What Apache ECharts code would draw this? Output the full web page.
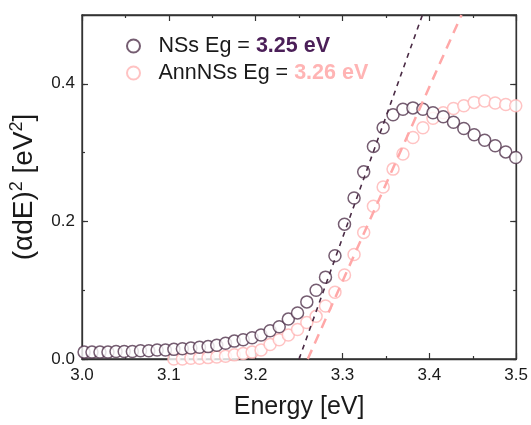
<!DOCTYPE html>
<html>
<head>
<meta charset="utf-8">
<script src="https://cdn.jsdelivr.net/npm/echarts@6/dist/echarts.min.js"></script>
<style>
  html, body { margin: 0; padding: 0; background: #fff; }
  #chart { width: 531px; height: 425px; }
</style>
</head>
<body>
<div id="chart"></div>
<script>
// photon energy of each measured point (eV)
const energies = [
  3.0024, 3.0115, 3.0207, 3.0299, 3.0392, 3.0486, 3.0580, 3.0674, 3.0769, 3.0865,
  3.0961, 3.1058, 3.1156, 3.1254, 3.1353, 3.1452, 3.1552, 3.1653, 3.1754, 3.1856,
  3.1959, 3.2062, 3.2166, 3.2271, 3.2376, 3.2482, 3.2589, 3.2696, 3.2804, 3.2913,
  3.3023, 3.3133, 3.3244, 3.3356, 3.3468, 3.3582, 3.3696, 3.3811, 3.3926, 3.4042,
  3.4160, 3.4278, 3.4397, 3.4516, 3.4637, 3.4758, 3.4880, 3.4995
];
// (alpha d E)^2, NSs
const nssValues = [
  0.010, 0.010, 0.010, 0.010, 0.011, 0.011, 0.011, 0.012, 0.012, 0.013,
  0.013, 0.014, 0.015, 0.016, 0.017, 0.018, 0.020, 0.023, 0.026, 0.028,
  0.031, 0.035, 0.041, 0.047, 0.058, 0.067, 0.083, 0.100, 0.119, 0.150,
  0.196, 0.234, 0.272, 0.309, 0.336, 0.355, 0.363, 0.365, 0.363, 0.358,
  0.352, 0.344, 0.335, 0.326, 0.318, 0.310, 0.301, 0.293
];
// (alpha d E)^2, AnnNSs
const annValues = [
  -0.004, -0.004, -0.004, -0.004, -0.004, -0.004, -0.004, -0.004, -0.004, -0.004,
  -0.004, 0.000, 0.000, 0.001, 0.001, 0.002, 0.003, 0.004, 0.006, 0.008,
  0.010, 0.013, 0.021, 0.028, 0.035, 0.043, 0.053, 0.062, 0.077, 0.097,
  0.122, 0.152, 0.184, 0.222, 0.250, 0.276, 0.298, 0.322, 0.336, 0.350,
  0.358, 0.364, 0.368, 0.373, 0.375, 0.372, 0.370, 0.368
];
// tangent lines (Tauc extrapolation)
const nssFitX = [3.25, 3.392];
const nssFitY = [0, 0.5];
const annFitX = [3.26, 3.437];
const annFitY = [0, 0.5];
const gapNSs = '3.25 eV';
const gapAnn = '3.26 eV';

const darkColor = '#52344e';
const pinkColor = '#ffb4b4';

const zip = (xs, ys) => xs.map((x, i) => [x, ys[i]]);

const chart = echarts.init(document.getElementById('chart'));

const font = 'Liberation Sans, Arial, sans-serif';
const tickStyle = { color: '#333', width: 1.2 };
const frame = () => ({ show: true, onZero: false, lineStyle: { color: '#333', width: 1.3 } });
const noLine = () => ({ show: false, onZero: false });
const majorTick = () => ({ show: true, inside: true, length: 6, lineStyle: tickStyle });
const minorTickY = () => ({ show: true, inside: true, length: 3, lineStyle: tickStyle });
const minorTickX = () => ({ show: true, splitNumber: 2, length: 3, lineStyle: tickStyle });

// every axis shares the same range; the extra ones draw the top/right ticks and the minor ticks
const xRange = { type: 'value', min: 3.0, max: 3.5, interval: 0.1, splitLine: { show: false } };
const yRange = { type: 'value', min: 0, max: 0.5, splitLine: { show: false } };

let option = {
  backgroundColor: '#fff',
  animation: false,
  textStyle: { fontFamily: font },
  grid: { left: 82, top: 15, right: 14, bottom: 63, show: true, borderColor: '#333', borderWidth: 1.3 },
  legend: {
    orient: 'vertical',
    left: 126,
    top: 35,
    padding: 0,
    itemWidth: 40,
    itemHeight: 13,
    itemGap: 5,
    data: ['NSs', 'AnnNSs'],
    textStyle: {
      fontFamily: font, fontSize: 21.5, color: '#1a1a1a', lineHeight: 22,
      rich: {
        d: { fontFamily: font, fontSize: 21.5, fontWeight: 'bold', color: '#4b1f58' },
        p: { fontFamily: font, fontSize: 21.5, fontWeight: 'bold', color: pinkColor }
      }
    },
    formatter: function (name) {
      return name === 'NSs' ? 'NSs Eg = {d|' + gapNSs + '}' : 'AnnNSs Eg = {p|' + gapAnn + '}';
    }
  },
  xAxis: [
    Object.assign({}, xRange, {
      position: 'bottom',
      name: 'Energy [eV]', nameLocation: 'middle', nameGap: 36,
      nameTextStyle: { fontFamily: font, fontSize: 25, color: '#1a1a1a' },
      axisLine: frame(),
      axisTick: majorTick(),
      minorTick: minorTickX(),
      axisLabel: { fontSize: 17, color: '#1a1a1a', margin: 8, formatter: v => v.toFixed(1) }
    }),
    Object.assign({}, xRange, {
      position: 'top',
      axisLine: frame(),
      axisTick: majorTick(),
      minorTick: minorTickX(),
      axisLabel: { show: false }
    })
  ],
  yAxis: [
    Object.assign({}, yRange, {
      position: 'left', interval: 0.2,
      name: '(αdE){s|2} [eV{s|2}]', nameLocation: 'middle', nameGap: 38, nameRotate: 90,
      nameTextStyle: {
        fontFamily: font, fontSize: 28, color: '#1a1a1a', lineHeight: 32,
        rich: { s: { fontFamily: font, fontSize: 18, color: '#1a1a1a', verticalAlign: 'top', lineHeight: 18 } }
      },
      axisLine: frame(),
      axisTick: majorTick(),
      axisLabel: { fontSize: 17, color: '#1a1a1a', margin: 7, showMaxLabel: false, formatter: v => v.toFixed(1) }
    }),
    Object.assign({}, yRange, {
      position: 'left', offset: 0, interval: 0.1,
      axisLine: noLine(),
      axisTick: minorTickY(),
      axisLabel: { show: false }
    }),
    Object.assign({}, yRange, {
      position: 'right', interval: 0.2,
      axisLine: frame(),
      axisTick: majorTick(),
      axisLabel: { show: false }
    }),
    Object.assign({}, yRange, {
      position: 'right', offset: 0, interval: 0.1,
      axisLine: noLine(),
      axisTick: minorTickY(),
      axisLabel: { show: false }
    })
  ],
  series: [
    {
      name: 'AnnNSs', type: 'scatter', symbol: 'circle', symbolSize: 12,
      xAxisIndex: 0, yAxisIndex: 0,
      itemStyle: { color: '#fff', borderColor: pinkColor, borderWidth: 1.5 },
      data: zip(energies, annValues)
    },
    {
      name: 'NSs', type: 'scatter', symbol: 'circle', symbolSize: 12,
      xAxisIndex: 0, yAxisIndex: 1,
      itemStyle: { color: '#fff', borderColor: darkColor, borderWidth: 1.5 },
      data: zip(energies, nssValues)
    },
    {
      name: 'AnnNSs fit', type: 'line', symbol: 'none', silent: true,
      xAxisIndex: 1, yAxisIndex: 2,
      lineStyle: { color: '#ffa8a8', width: 2.5, type: [10, 7] },
      data: zip(annFitX, annFitY)
    },
    {
      name: 'NSs fit', type: 'line', symbol: 'none', silent: true,
      xAxisIndex: 1, yAxisIndex: 3,
      lineStyle: { color: '#4a2b45', width: 1.6, type: [5, 5] },
      data: zip(nssFitX, nssFitY)
    }
  ]
};
chart.setOption(option);
</script>
</body>
</html>
